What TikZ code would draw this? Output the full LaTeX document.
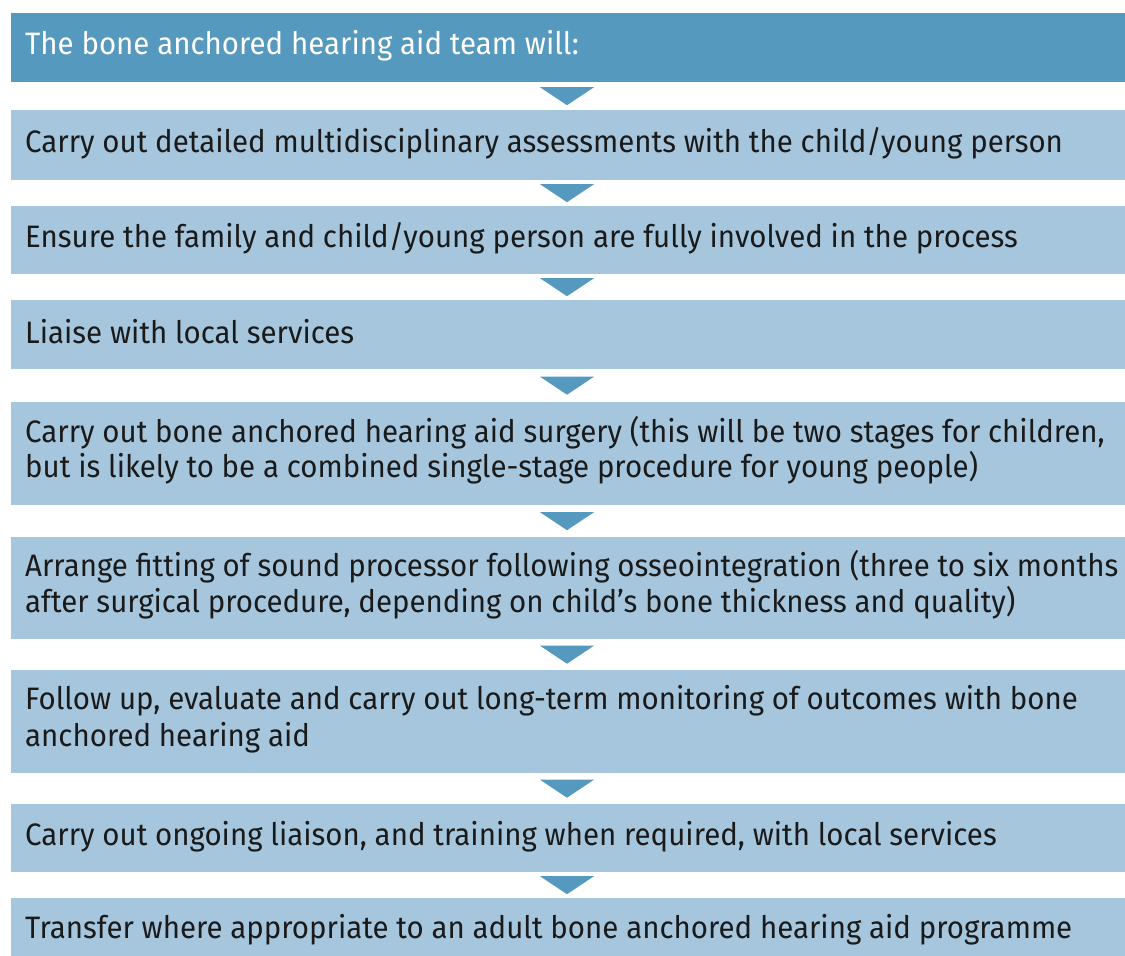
\documentclass[tikz,border=0pt]{standalone}
\usepackage{fontspec}
\setmainfont[FakeStretch=0.95]{Fira Sans}
\usetikzlibrary{calc}
\definecolor{headc}{HTML}{5699BF}
\definecolor{boxc}{HTML}{A5C6DD}
\definecolor{txtc}{HTML}{1A1A1A}
\tikzset{
  stepbox/.style={fill=boxc, draw=none, inner sep=0pt, minimum width=1114pt, anchor=north west},
  headbox/.style={stepbox, fill=headc},
  lbl/.style={anchor=base west, inner sep=0pt, text=txtc, font=\fontsize{31}{36}\selectfont},
  headlbl/.style={lbl, text=white},
  tri/.style={fill=headc, draw=none},
}
\begin{document}
\begin{tikzpicture}[x=1pt, y=-1pt]
\useasboundingbox (0,0) rectangle (1125,956);
% boxes
\node[headbox, minimum height=69pt] (b0) at (11,13) {};
\node[stepbox, minimum height=70pt] (b1) at (11,110) {};
\node[stepbox, minimum height=68pt] (b2) at (11,206) {};
\node[stepbox, minimum height=69pt] (b3) at (11,300) {};
\node[stepbox, minimum height=103pt] (b4) at (11,402) {};
\node[stepbox, minimum height=102pt] (b5) at (11,537) {};
\node[stepbox, minimum height=103pt] (b6) at (11,670) {};
\node[stepbox, minimum height=68pt] (b7) at (11,804) {};
\node[stepbox, minimum height=70pt] (b8) at (11,898) {};
% texts
\node[headlbl] (t0) at (25,54) {The bone anchored hearing aid team will:};
\node[lbl] (t1) at (25,152) {Carry out detailed multidisciplinary assessments with the child/young person};
\node[lbl] (t2) at (25,247) {Ensure the family and child/young person are fully involved in the process};
\node[lbl] (t3) at (25,343) {Liaise with local services};
\node[lbl] (t4a) at (25,442) {Carry out bone anchored hearing aid surgery (this will be two stages for children,};
\node[lbl] (t4b) at (25,477) {but is likely to be a combined single-stage procedure for young people)};
\node[lbl] (t5a) at (25,576) {Arrange fitting of sound processor following osseointegration (three to six months};
\node[lbl] (t5b) at (25,612) {after surgical procedure, depending on child’s bone thickness and quality)};
\node[lbl] (t6a) at (25,709) {Follow up, evaluate and carry out long-term monitoring of outcomes with bone};
\node[lbl] (t6b) at (25,746) {anchored hearing aid};
\node[lbl] (t7) at (25,845) {Carry out ongoing liaison, and training when required, with local services};
\node[lbl] (t8) at (25,938) {Transfer where appropriate to an adult bone anchored hearing aid programme};
% triangles
\foreach \a/\b in {b0/b1,b1/b2,b2/b3,b3/b4,b4/b5,b5/b6,b6/b7,b7/b8}{
  \path let \p1=(\a.south), \p2=(\b.north), \n1={(\y1+\y2)/2} in
    coordinate (m) at (567pt,\n1);
  \fill[tri] ($(m)+(-27,-9)$) -- ($(m)+(27,-9)$) -- ($(m)+(0,9)$) -- cycle;
}
\end{tikzpicture}
\end{document}
